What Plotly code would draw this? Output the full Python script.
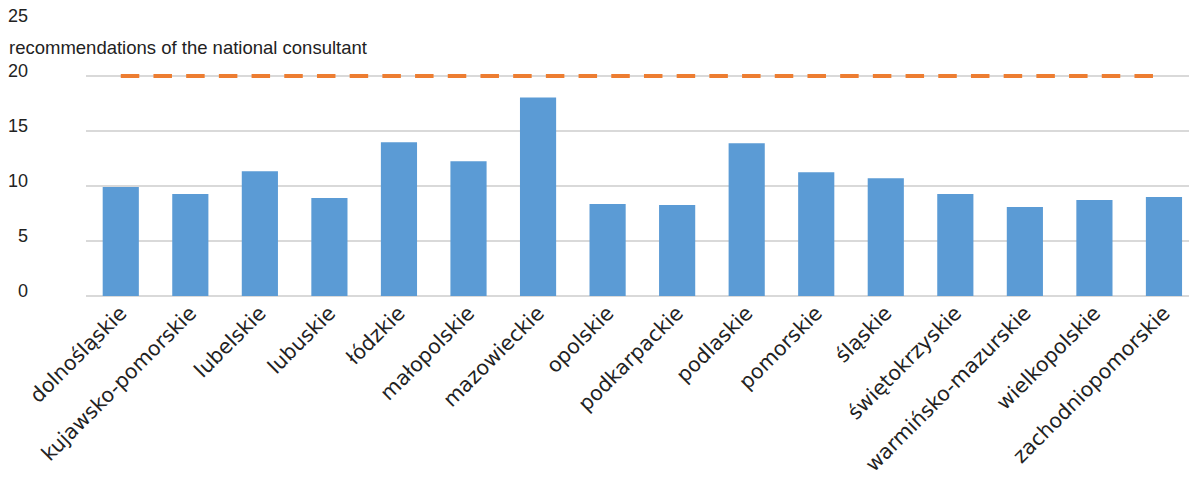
import plotly.graph_objects as go

categories = ["dolnośląskie", "kujawsko-pomorskie", "lubelskie", "lubuskie", "łódzkie",
              "małopolskie", "mazowieckie", "opolskie", "podkarpackie", "podlaskie",
              "pomorskie", "śląskie", "świętokrzyskie", "warmińsko-mazurskie",
              "wielkopolskie", "zachodniopomorskie"]
values = [9.9, 9.27, 11.35, 8.9, 13.97, 12.25, 18.04, 8.36, 8.27, 13.88,
          11.26, 10.71, 9.27, 8.09, 8.72, 9.0]
recommendation = [20] * len(categories)
recommendation_label = "recommendations of the national consultant"
y_ticks = [0, 5, 10, 15, 20, 25]

fig = go.Figure()
fig.add_trace(go.Bar(x=categories, y=values, marker=dict(color="#5B9BD5", line=dict(width=0)),
                     showlegend=False))
fig.add_trace(go.Scatter(x=categories, y=recommendation, mode="lines",
                         line=dict(color="#ED7D31", width=4, dash="18.5px,14.2px"),
                         showlegend=False))

fig.add_annotation(text=recommendation_label, xref="paper", yref="y",
                   x=-0.072, y=22.6, xanchor="left", yanchor="middle", showarrow=False,
                   font=dict(family="Liberation Sans, Arial", size=18.5, color="#222"))

fig.update_layout(
    width=1189, height=479,
    margin=dict(l=86, r=0, t=21, b=183),
    plot_bgcolor="white", paper_bgcolor="white",
    bargap=0.48,
    xaxis=dict(range=[-0.5, 15.36], showgrid=False, showline=False, ticks="",
               tickangle=-45, tickfont=dict(family="DejaVu Sans", size=20.5, color="#222"),
               fixedrange=True),
    yaxis=dict(range=[0, 25], tickvals=y_ticks, showgrid=True, gridcolor="#D9D9D9",
               gridwidth=1.5, zeroline=True, zerolinecolor="#D9D9D9", zerolinewidth=1.5,
               showline=False, ticks="", ticklabelstandoff=57, ticklabelshift=-5,
               tickfont=dict(family="Liberation Sans, Arial", size=18, color="#222")),
)

fig.write_html("out.html")
